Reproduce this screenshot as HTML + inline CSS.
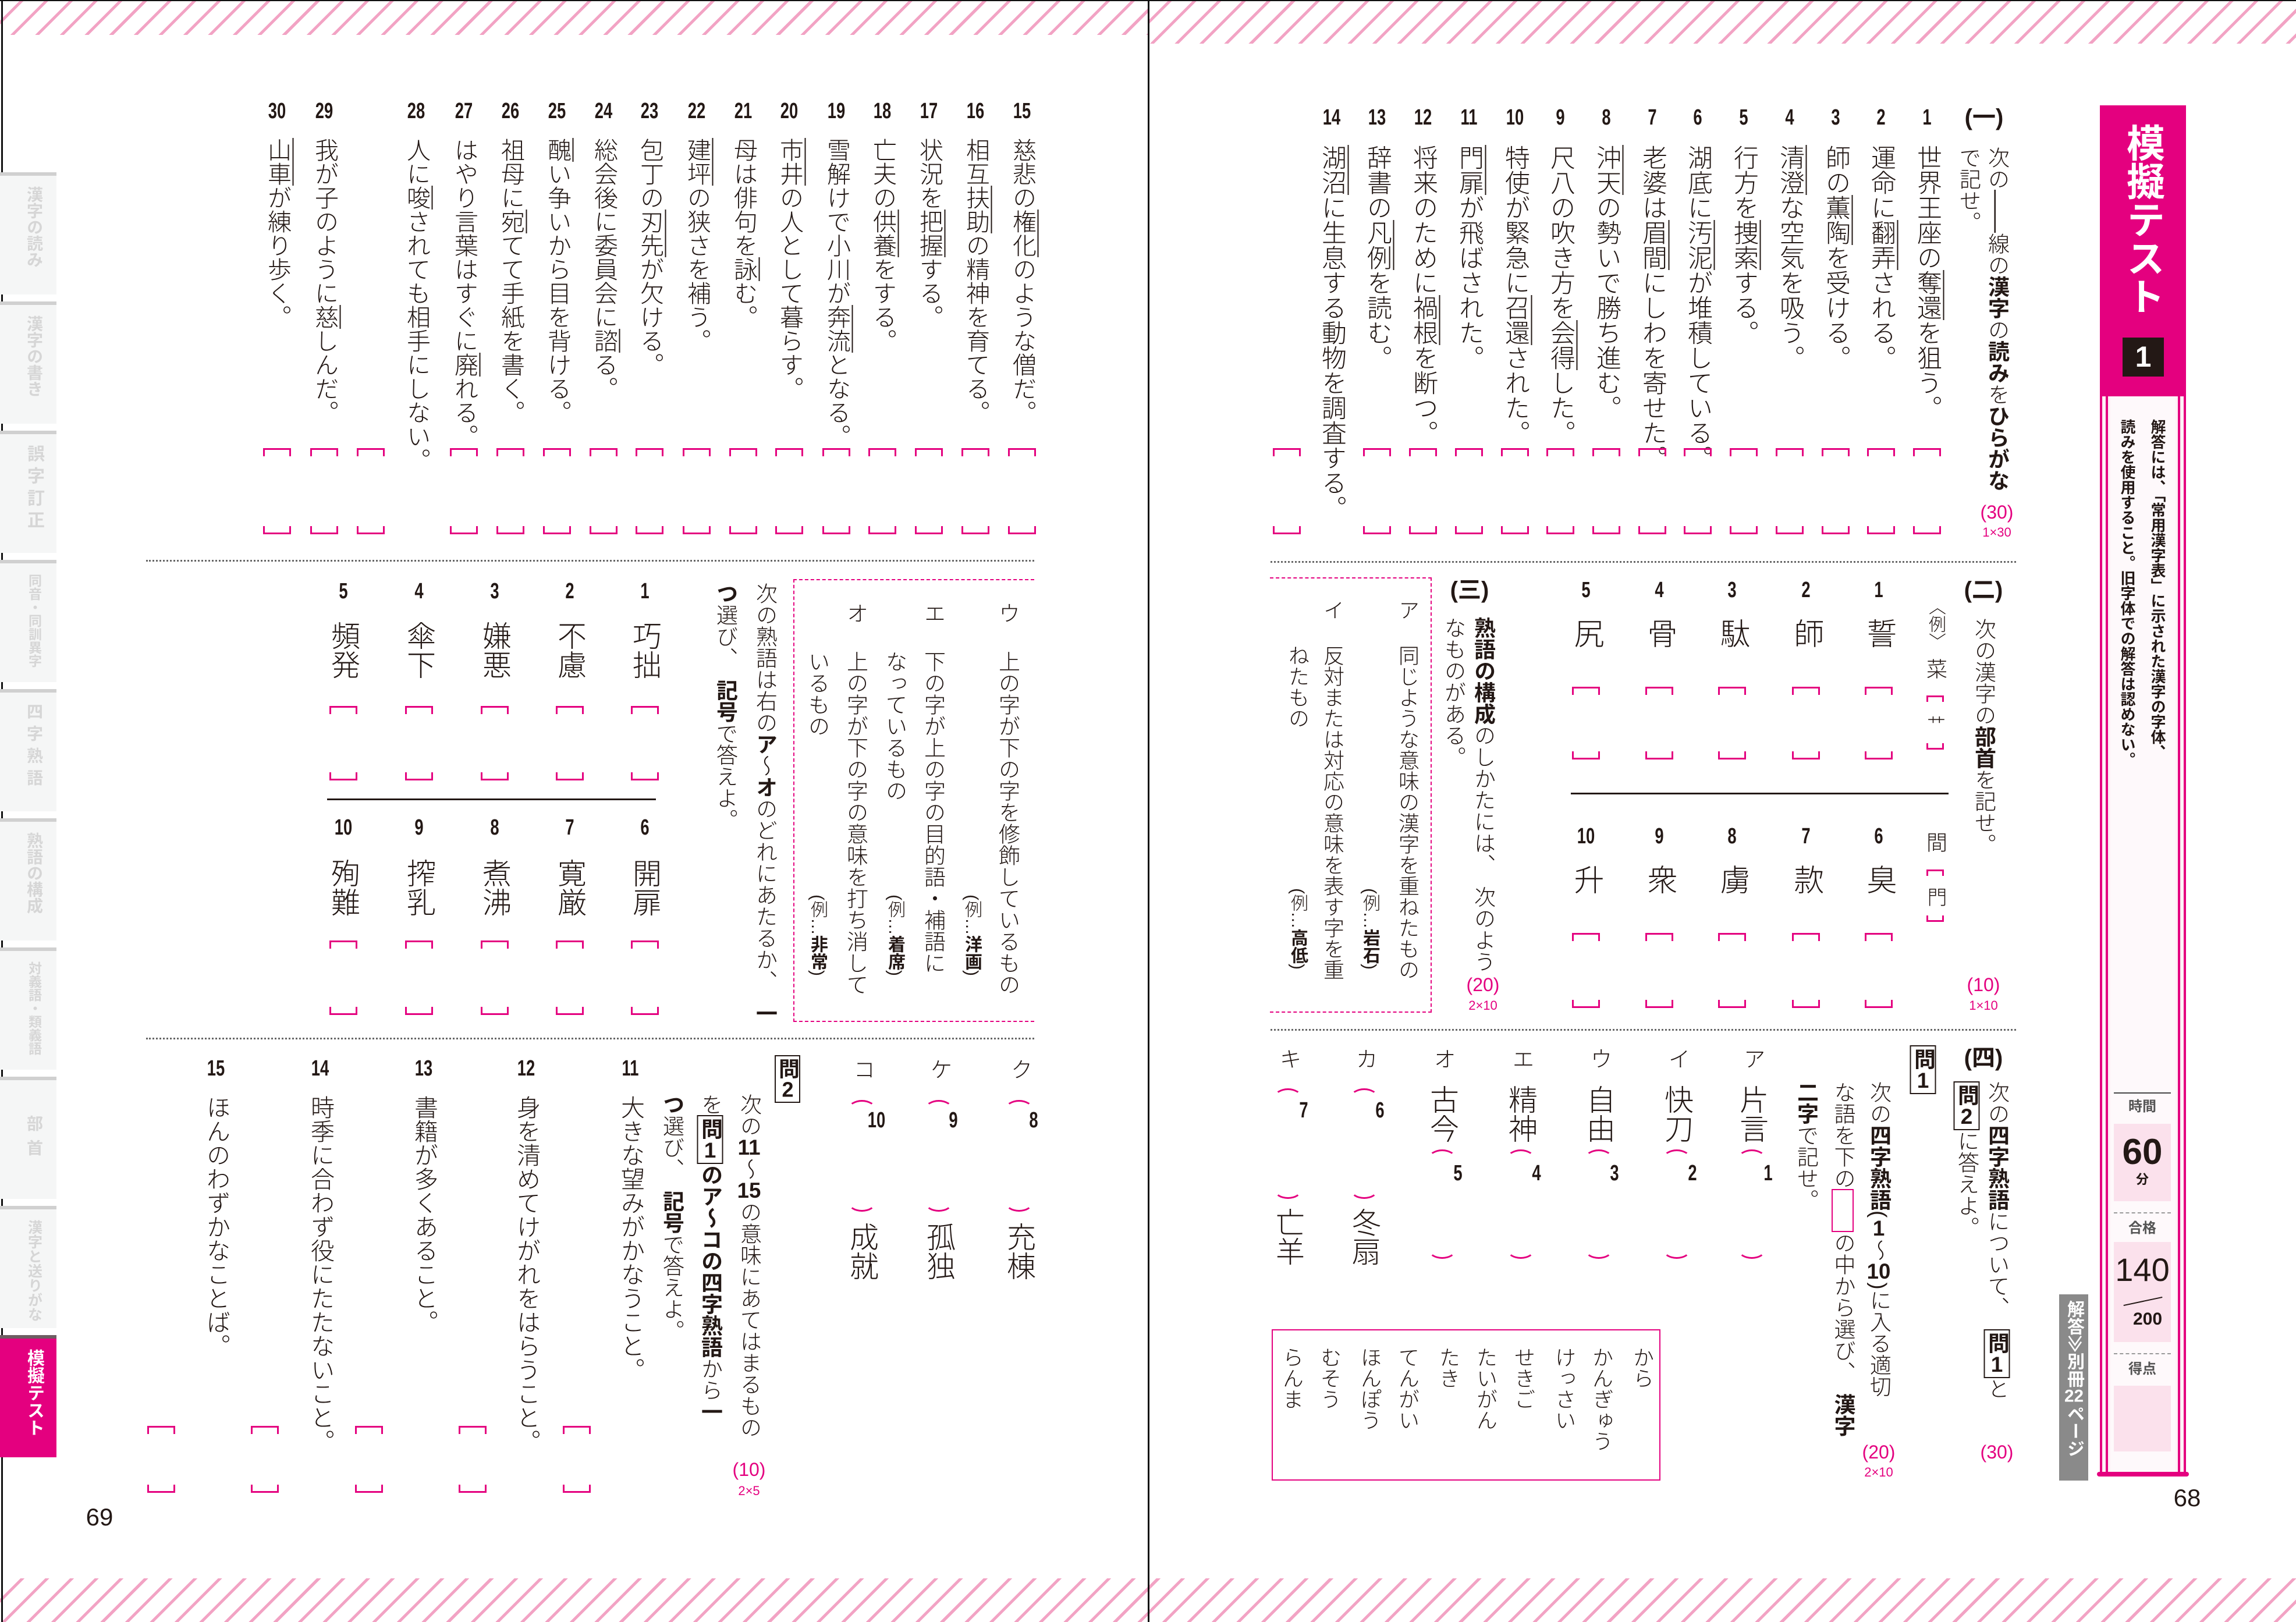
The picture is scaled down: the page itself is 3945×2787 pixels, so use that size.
<!DOCTYPE html>
<html><head><meta charset="utf-8">
<style>
body{margin:0;padding:0}
#p{position:relative;width:3945px;height:2787px;background:#fff;overflow:hidden;font-family:"Liberation Sans","Noto Sans CJK JP",sans-serif;color:#231815}
.v{position:absolute;writing-mode:vertical-rl;transform:translateX(-50%);line-height:1;white-space:nowrap;font-family:"Liberation Sans","Noto Sans CJK JP",sans-serif;font-weight:300}
.v b{font-weight:700}
.n{position:absolute;transform:translate(-50%,-50%) scaleX(0.72);font-family:"Liberation Sans",sans-serif;font-weight:700;font-size:38px;line-height:1;white-space:nowrap}
.h{position:absolute;transform:translate(-50%,-50%);font-weight:700;font-size:40px;line-height:1;white-space:nowrap}
.pk{position:absolute;transform:translate(-50%,-50%);color:#e4007f;line-height:1;white-space:nowrap;font-family:"Liberation Sans",sans-serif}
.u{border-right:2.5px solid #231815;padding-right:3px}
.tcu{text-combine-upright:all;font-family:"Liberation Sans",sans-serif;font-weight:700}
.bt,.bb{position:absolute;width:48px;height:14px;border:3.5px solid #e4007f;transform:translateX(-50%);box-sizing:border-box}
.bt{border-bottom:none}.bb{border-top:none}
.at,.ab{position:absolute;width:48px;height:16px;border:3px solid #e4007f;transform:translateX(-50%);box-sizing:border-box}
.at{border-bottom:none;border-left-color:transparent;border-right-color:transparent;border-radius:50% 50% 0 0/100% 100% 0 0}
.ab{border-top:none;border-left-color:transparent;border-right-color:transparent;border-radius:0 0 50% 50%/0 0 100% 100%}
.bx{display:inline-block;border:2.5px solid #231815;padding:3px 2px;font-weight:700}
.dl{position:absolute;border-top:3px dotted #666;height:0}
.hatch{position:absolute;background:repeating-linear-gradient(135deg,transparent 0 25px,#f2a3c4 25px 30px)}
.tab{position:absolute;left:0;width:97px;height:210px;background:#f5f6f6;border-top:6px solid #d0d0d0;box-sizing:border-box}
.tab div{position:absolute;left:58px;top:18px;writing-mode:vertical-rl;transform:translateX(-50%);color:#d6d6d6;font-size:28px;line-height:1;white-space:nowrap;font-weight:700}
</style></head><body><div id="p">

<!-- bands -->
<div class="hatch" style="left:0;top:0;width:1973px;height:60px"></div>
<div class="hatch" style="left:1973px;top:0;width:1972px;height:75px"></div>
<div class="hatch" style="left:0;top:2712px;width:3945px;height:75px"></div>
<div style="position:absolute;left:0;top:0;width:3945px;height:2px;background:#111"></div>
<div style="position:absolute;left:1972px;top:0;width:3px;height:2787px;background:#111"></div>
<div style="position:absolute;left:2px;top:0;width:3px;height:2787px;background:#111"></div>

<!-- left tabs -->
<div class="tab" style="top:296px"><div>漢字の読み</div></div>
<div class="tab" style="top:518px"><div>漢字の書き</div></div>
<div class="tab" style="top:740px"><div style="font-size:30px;letter-spacing:8px">誤字訂正</div></div>
<div class="tab" style="top:962px"><div style="font-size:23px">同音・同訓異字</div></div>
<div class="tab" style="top:1184px"><div style="letter-spacing:10px">四字熟語</div></div>
<div class="tab" style="top:1406px"><div>熟語の構成</div></div>
<div class="tab" style="top:1628px"><div style="font-size:23px">対義語・類義語</div></div>
<div class="tab" style="top:1850px"><div style="top:60px;letter-spacing:14px">部首</div></div>
<div class="tab" style="top:2072px"><div style="font-size:25px">漢字と送りがな</div></div>
<div class="tab" style="top:2294px;background:#e4007f;border-top-color:#6d5d62"><div style="color:#fff;font-size:30px">模擬テスト</div></div>

<div style="position:absolute;left:171px;top:2607px;transform:translate(-50%,-50%);font-size:42px">69</div>
<div style="position:absolute;left:3758px;top:2574px;transform:translate(-50%,-50%);font-size:42px">68</div>

<!-- ===== RIGHT PAGE (一) ===== -->
<div class="h" style="left:3409px;top:202px">(一)</div>
<div class="v" style="left:3431px;top:252px;font-size:37px">次の――線の<b>漢字</b>の<b>読み</b>を<b>ひらがな</b></div>
<div class="v" style="left:3382px;top:252px;font-size:37px">で記せ。</div>
<div class="pk" style="left:3431px;top:880px;font-size:32px">(30)</div>
<div class="pk" style="left:3431px;top:915px;font-size:22px">1×30</div>

<div class="n" style="left:3311px;top:202px">1</div><div class="v" style="left:3311px;top:249px;font-size:43px">世界王座の<span class="u">奪還</span>を狙う。</div>
<div class="n" style="left:3232px;top:202px">2</div><div class="v" style="left:3232px;top:249px;font-size:43px">運命に<span class="u">翻弄</span>される。</div>
<div class="n" style="left:3154px;top:202px">3</div><div class="v" style="left:3154px;top:249px;font-size:43px">師の<span class="u">薫陶</span>を受ける。</div>
<div class="n" style="left:3075px;top:202px">4</div><div class="v" style="left:3075px;top:249px;font-size:43px"><span class="u">清澄</span>な空気を吸う。</div>
<div class="n" style="left:2996px;top:202px">5</div><div class="v" style="left:2996px;top:249px;font-size:43px">行方を<span class="u">捜索</span>する。</div>
<div class="n" style="left:2917px;top:202px">6</div><div class="v" style="left:2917px;top:249px;font-size:43px">湖底に<span class="u">汚泥</span>が堆積している。</div>
<div class="n" style="left:2839px;top:202px">7</div><div class="v" style="left:2839px;top:249px;font-size:43px">老婆は<span class="u">眉間</span>にしわを寄せた。</div>
<div class="n" style="left:2760px;top:202px">8</div><div class="v" style="left:2760px;top:249px;font-size:43px"><span class="u">沖天</span>の勢いで勝ち進む。</div>
<div class="n" style="left:2681px;top:202px">9</div><div class="v" style="left:2681px;top:249px;font-size:43px">尺八の吹き方を<span class="u">会得</span>した。</div>
<div class="n" style="left:2603px;top:202px">10</div><div class="v" style="left:2603px;top:249px;font-size:43px">特使が緊急に<span class="u">召還</span>された。</div>
<div class="n" style="left:2524px;top:202px">11</div><div class="v" style="left:2524px;top:249px;font-size:43px"><span class="u">門扉</span>が飛ばされた。</div>
<div class="n" style="left:2445px;top:202px">12</div><div class="v" style="left:2445px;top:249px;font-size:43px">将来のために<span class="u">禍根</span>を断つ。</div>
<div class="n" style="left:2366px;top:202px">13</div><div class="v" style="left:2366px;top:249px;font-size:43px">辞書の<span class="u">凡例</span>を読む。</div>
<div class="n" style="left:2288px;top:202px">14</div><div class="v" style="left:2288px;top:249px;font-size:43px"><span class="u">湖沼</span>に生息する動物を調査する。</div>

<div class="bt" style="left:3311px;top:770px"></div><div class="bb" style="left:3311px;top:904px"></div>
<div class="bt" style="left:3232px;top:770px"></div><div class="bb" style="left:3232px;top:904px"></div>
<div class="bt" style="left:3154px;top:770px"></div><div class="bb" style="left:3154px;top:904px"></div>
<div class="bt" style="left:3075px;top:770px"></div><div class="bb" style="left:3075px;top:904px"></div>
<div class="bt" style="left:2996px;top:770px"></div><div class="bb" style="left:2996px;top:904px"></div>
<div class="bt" style="left:2917px;top:770px"></div><div class="bb" style="left:2917px;top:904px"></div>
<div class="bt" style="left:2839px;top:770px"></div><div class="bb" style="left:2839px;top:904px"></div>
<div class="bt" style="left:2760px;top:770px"></div><div class="bb" style="left:2760px;top:904px"></div>
<div class="bt" style="left:2681px;top:770px"></div><div class="bb" style="left:2681px;top:904px"></div>
<div class="bt" style="left:2603px;top:770px"></div><div class="bb" style="left:2603px;top:904px"></div>
<div class="bt" style="left:2524px;top:770px"></div><div class="bb" style="left:2524px;top:904px"></div>
<div class="bt" style="left:2445px;top:770px"></div><div class="bb" style="left:2445px;top:904px"></div>
<div class="bt" style="left:2366px;top:770px"></div><div class="bb" style="left:2366px;top:904px"></div>
<div class="bt" style="left:2211px;top:770px"></div><div class="bb" style="left:2211px;top:904px"></div>

<div class="dl" style="left:2183px;top:964px;width:1281px"></div>

<!-- (二) -->
<div class="h" style="left:3408px;top:1014px">(二)</div>
<div class="v" style="left:3408px;top:1062px;font-size:37px">次の漢字の<b>部首</b>を記せ。</div>
<div class="v" style="left:3325px;top:1027px;font-size:30px">〈例〉</div>
<div class="v" style="left:3325px;top:1131px;font-size:36px">菜</div>
<div class="bt" style="left:3325px;top:1195px;width:30px;height:11px;border-width:3px"></div>
<div class="v" style="left:3325px;top:1228px;font-size:32px">艹</div>
<div class="bb" style="left:3325px;top:1277px;width:30px;height:11px;border-width:3px"></div>
<div class="v" style="left:3325px;top:1429px;font-size:36px">間</div>
<div class="bt" style="left:3325px;top:1494px;width:30px;height:11px;border-width:3px"></div>
<div class="v" style="left:3325px;top:1524px;font-size:34px">門</div>
<div class="bb" style="left:3325px;top:1573px;width:30px;height:11px;border-width:3px"></div>
<div class="pk" style="left:3408px;top:1692px;font-size:32px">(10)</div>
<div class="pk" style="left:3408px;top:1728px;font-size:22px">1×10</div>

<div class="n" style="left:3228px;top:1014px">1</div><div class="v" style="left:3228px;top:1062px;font-size:52px">誓</div>
<div class="n" style="left:3103px;top:1014px">2</div><div class="v" style="left:3103px;top:1062px;font-size:52px">師</div>
<div class="n" style="left:2976px;top:1014px">3</div><div class="v" style="left:2976px;top:1062px;font-size:52px">駄</div>
<div class="n" style="left:2851px;top:1014px">4</div><div class="v" style="left:2851px;top:1062px;font-size:52px">骨</div>
<div class="n" style="left:2725px;top:1014px">5</div><div class="v" style="left:2725px;top:1062px;font-size:52px">尻</div>
<div class="bt" style="left:3228px;top:1180px"></div><div class="bb" style="left:3228px;top:1291px"></div>
<div class="bt" style="left:3103px;top:1180px"></div><div class="bb" style="left:3103px;top:1291px"></div>
<div class="bt" style="left:2976px;top:1180px"></div><div class="bb" style="left:2976px;top:1291px"></div>
<div class="bt" style="left:2851px;top:1180px"></div><div class="bb" style="left:2851px;top:1291px"></div>
<div class="bt" style="left:2725px;top:1180px"></div><div class="bb" style="left:2725px;top:1291px"></div>
<div style="position:absolute;left:2699px;top:1362px;width:649px;height:3px;background:#231815"></div>
<div class="n" style="left:3228px;top:1437px">6</div><div class="v" style="left:3228px;top:1485px;font-size:52px">臭</div>
<div class="n" style="left:3103px;top:1437px">7</div><div class="v" style="left:3103px;top:1485px;font-size:52px">款</div>
<div class="n" style="left:2976px;top:1437px">8</div><div class="v" style="left:2976px;top:1485px;font-size:52px">虜</div>
<div class="n" style="left:2851px;top:1437px">9</div><div class="v" style="left:2851px;top:1485px;font-size:52px">衆</div>
<div class="n" style="left:2725px;top:1437px">10</div><div class="v" style="left:2725px;top:1485px;font-size:52px">升</div>
<div class="bt" style="left:3228px;top:1603px"></div><div class="bb" style="left:3228px;top:1718px"></div>
<div class="bt" style="left:3103px;top:1603px"></div><div class="bb" style="left:3103px;top:1718px"></div>
<div class="bt" style="left:2976px;top:1603px"></div><div class="bb" style="left:2976px;top:1718px"></div>
<div class="bt" style="left:2851px;top:1603px"></div><div class="bb" style="left:2851px;top:1718px"></div>
<div class="bt" style="left:2725px;top:1603px"></div><div class="bb" style="left:2725px;top:1718px"></div>

<!-- (三) -->
<div class="h" style="left:2525px;top:1014px">(三)</div>
<div class="v" style="left:2548px;top:1060px;font-size:37px"><b>熟語の構成</b>のしかたには、　次のよう</div>
<div class="v" style="left:2497px;top:1060px;font-size:37px">なものがある。</div>
<div class="pk" style="left:2548px;top:1692px;font-size:32px">(20)</div>
<div class="pk" style="left:2548px;top:1728px;font-size:22px">2×10</div>
<div style="position:absolute;left:2182px;top:992px;width:278px;height:748px;border:2px dashed #e4007f;border-left:none;box-sizing:border-box"></div>
<div class="v" style="left:2418px;top:1030px;font-size:36px">ア</div>
<div class="v" style="left:2418px;top:1108px;font-size:36px">同じような意味の漢字を重ねたもの</div>
<div class="v" style="left:2353px;top:1526px;font-size:30px">(例…<b>岩石</b>)</div>
<div class="v" style="left:2289px;top:1030px;font-size:36px">イ</div>
<div class="v" style="left:2289px;top:1108px;font-size:36px">反対または対応の意味を表す字を重</div>
<div class="v" style="left:2229px;top:1108px;font-size:36px">ねたもの</div>
<div class="v" style="left:2229px;top:1526px;font-size:30px">(例…<b>高低</b>)</div>

<div class="dl" style="left:2183px;top:1768px;width:1281px"></div>

<!-- (四) -->
<div class="h" style="left:3408px;top:1818px">(四)</div>
<div class="v" style="left:3431px;top:1858px;font-size:37px">次の<b>四字熟語</b>について、　<span class="bx">問<span class="tcu">1</span></span>と</div>
<div class="v" style="left:3379px;top:1858px;font-size:37px"><span class="bx">問<span class="tcu">2</span></span>に答えよ。</div>
<div class="v" style="left:3304px;top:1796px;font-size:37px"><span class="bx">問<span class="tcu">1</span></span></div>
<div class="v" style="left:3228px;top:1858px;font-size:37px">次の<b>四字熟語</b>(<span class="tcu">1</span>〜<span class="tcu">10</span>)に入る適切</div>
<div class="v" style="left:3166px;top:1858px;font-size:37px">な語を下の<span style="display:inline-block;width:34px;height:70px;border:2px solid #e4007f"></span>の中から選び、　<b>漢字</b></div>
<div class="v" style="left:3103px;top:1858px;font-size:37px"><b>二字</b>で記せ。</div>
<div class="pk" style="left:3228px;top:2495px;font-size:32px">(20)</div>
<div class="pk" style="left:3228px;top:2530px;font-size:22px">2×10</div>
<div class="pk" style="left:3431px;top:2495px;font-size:32px">(30)</div>

<div style="position:absolute;left:3538px;top:2224px;width:50px;height:320px;background:#8a8a8a"></div>
<div class="v" style="left:3563px;top:2234px;font-size:30px;color:#fff;font-weight:700">解答≫別冊<span class="tcu">22</span>ページ</div>

<div class="v" style="left:3010px;top:1800px;font-size:38px">ア</div><div class="v" style="left:3010px;top:1864px;font-size:50px">片言</div>
<div class="v" style="left:2881px;top:1800px;font-size:38px">イ</div><div class="v" style="left:2881px;top:1864px;font-size:50px">快刀</div>
<div class="v" style="left:2747px;top:1800px;font-size:38px">ウ</div><div class="v" style="left:2747px;top:1864px;font-size:50px">自由</div>
<div class="v" style="left:2613px;top:1800px;font-size:38px">エ</div><div class="v" style="left:2613px;top:1864px;font-size:50px">精神</div>
<div class="v" style="left:2478px;top:1800px;font-size:38px">オ</div><div class="v" style="left:2478px;top:1864px;font-size:50px">古今</div>
<div class="at" style="left:3010px;top:1975px"></div><div class="n" style="left:3038px;top:2016px">1</div><div class="ab" style="left:3010px;top:2147px"></div>
<div class="at" style="left:2881px;top:1975px"></div><div class="n" style="left:2908px;top:2016px">2</div><div class="ab" style="left:2881px;top:2147px"></div>
<div class="at" style="left:2747px;top:1975px"></div><div class="n" style="left:2774px;top:2016px">3</div><div class="ab" style="left:2747px;top:2147px"></div>
<div class="at" style="left:2613px;top:1975px"></div><div class="n" style="left:2640px;top:2016px">4</div><div class="ab" style="left:2613px;top:2147px"></div>
<div class="at" style="left:2478px;top:1975px"></div><div class="n" style="left:2505px;top:2016px">5</div><div class="ab" style="left:2478px;top:2147px"></div>
<div class="v" style="left:2344px;top:1800px;font-size:38px">カ</div>
<div class="at" style="left:2344px;top:1870px"></div><div class="n" style="left:2371px;top:1908px">6</div><div class="ab" style="left:2344px;top:2044px"></div>
<div class="v" style="left:2344px;top:2075px;font-size:50px">冬扇</div>
<div class="v" style="left:2213px;top:1800px;font-size:38px">キ</div>
<div class="at" style="left:2213px;top:1870px"></div><div class="n" style="left:2240px;top:1908px">7</div><div class="ab" style="left:2213px;top:2044px"></div>
<div class="v" style="left:2213px;top:2075px;font-size:50px">亡羊</div>

<div style="position:absolute;left:2185px;top:2284px;width:668px;height:260px;border:2.5px solid #e4007f;box-sizing:border-box"></div>
<div class="v" style="left:2821px;top:2314px;font-size:36px">から</div>
<div class="v" style="left:2751px;top:2314px;font-size:36px">かんぎゅう</div>
<div class="v" style="left:2687px;top:2314px;font-size:36px">けっさい</div>
<div class="v" style="left:2617px;top:2314px;font-size:36px">せきご</div>
<div class="v" style="left:2552px;top:2314px;font-size:36px">たいがん</div>
<div class="v" style="left:2488px;top:2314px;font-size:36px">たき</div>
<div class="v" style="left:2418px;top:2314px;font-size:36px">てんがい</div>
<div class="v" style="left:2353px;top:2314px;font-size:36px">ほんぽう</div>
<div class="v" style="left:2284px;top:2314px;font-size:36px">むそう</div>
<div class="v" style="left:2219px;top:2314px;font-size:36px">らんま</div>

<!-- title box -->
<div style="position:absolute;left:3608px;top:181px;width:148px;height:500px;background:#e4007f"></div>
<div class="v" style="left:3682px;top:212px;font-size:66px;color:#fff;font-weight:700">模擬テスト</div>
<div style="position:absolute;left:3647px;top:580px;width:71px;height:67px;background:#231815;color:#fff;font-weight:700;font-size:50px;line-height:67px;text-align:center;font-family:'Liberation Sans',sans-serif">1</div>
<div style="position:absolute;left:3608px;top:681px;width:148px;height:1852px;background:#fdf1f6;border-left:4px solid #e4007f;border-right:4px solid #e4007f;box-sizing:border-box"></div>
<div style="position:absolute;left:3618px;top:681px;width:4px;height:1852px;background:#e4007f"></div>
<div style="position:absolute;left:3742px;top:681px;width:4px;height:1852px;background:#e4007f"></div>
<div style="position:absolute;left:3626px;top:681px;width:112px;height:1852px;background:#fff;opacity:.55"></div>
<div style="position:absolute;left:3603px;top:2529px;width:158px;height:8px;background:#e4007f;border-radius:4px"></div>
<div class="v" style="left:3707px;top:720px;font-size:26px;font-weight:700">解答には、「常用漢字表」に示された漢字の字体、</div>
<div class="v" style="left:3655px;top:720px;font-size:26px;font-weight:700">読みを使用すること。旧字体での解答は認めない。</div>
<div style="position:absolute;left:3632px;top:1877px;width:98px;height:2px;background:#444"></div>
<div class="h" style="left:3681px;top:1902px;font-size:24px;color:#555">時間</div>
<div style="position:absolute;left:3632px;top:1931px;width:98px;height:133px;background:#fbe1ec"></div>
<div class="h" style="left:3681px;top:1980px;font-size:62px;font-family:'Liberation Sans',sans-serif">60</div>
<div class="h" style="left:3681px;top:2027px;font-size:22px">分</div>
<div style="position:absolute;left:3632px;top:2083px;width:98px;border-top:2px dashed #999"></div>
<div class="h" style="left:3681px;top:2111px;font-size:24px;color:#555">合格</div>
<div style="position:absolute;left:3632px;top:2134px;width:98px;height:172px;background:#fbe1ec"></div>
<div class="h" style="left:3681px;top:2182px;font-size:56px;font-weight:400;font-family:'Liberation Sans',sans-serif">140</div>
<div style="position:absolute;left:3648px;top:2235px;width:68px;height:2px;background:#231815;transform:rotate(-12deg)"></div>
<div class="h" style="left:3690px;top:2267px;font-size:30px;font-family:'Liberation Sans',sans-serif">200</div>
<div style="position:absolute;left:3632px;top:2325px;width:98px;border-top:2px dashed #999"></div>
<div class="h" style="left:3681px;top:2353px;font-size:24px;color:#555">得点</div>
<div style="position:absolute;left:3632px;top:2381px;width:98px;height:113px;background:#fbe1ec"></div>

<!-- ===== LEFT PAGE ===== -->
<div class="n" style="left:1756px;top:191px">15</div><div class="v" style="left:1756px;top:237px;font-size:41px">慈悲の<span class="u">権化</span>のような僧だ。</div>
<div class="n" style="left:1676px;top:191px">16</div><div class="v" style="left:1676px;top:237px;font-size:41px">相互<span class="u">扶助</span>の精神を育てる。</div>
<div class="n" style="left:1596px;top:191px">17</div><div class="v" style="left:1596px;top:237px;font-size:41px">状況を<span class="u">把握</span>する。</div>
<div class="n" style="left:1516px;top:191px">18</div><div class="v" style="left:1516px;top:237px;font-size:41px">亡夫の<span class="u">供養</span>をする。</div>
<div class="n" style="left:1437px;top:191px">19</div><div class="v" style="left:1437px;top:237px;font-size:41px">雪解けで小川が<span class="u">奔流</span>となる。</div>
<div class="n" style="left:1356px;top:191px">20</div><div class="v" style="left:1356px;top:237px;font-size:41px"><span class="u">市井</span>の人として暮らす。</div>
<div class="n" style="left:1277px;top:191px">21</div><div class="v" style="left:1277px;top:237px;font-size:41px">母は俳句を<span class="u">詠</span>む。</div>
<div class="n" style="left:1197px;top:191px">22</div><div class="v" style="left:1197px;top:237px;font-size:41px"><span class="u">建坪</span>の狭さを補う。</div>
<div class="n" style="left:1116px;top:191px">23</div><div class="v" style="left:1116px;top:237px;font-size:41px">包丁の<span class="u">刃先</span>が欠ける。</div>
<div class="n" style="left:1037px;top:191px">24</div><div class="v" style="left:1037px;top:237px;font-size:41px">総会後に委員会に<span class="u">諮</span>る。</div>
<div class="n" style="left:957px;top:191px">25</div><div class="v" style="left:957px;top:237px;font-size:41px"><span class="u">醜</span>い争いから目を背ける。</div>
<div class="n" style="left:877px;top:191px">26</div><div class="v" style="left:877px;top:237px;font-size:41px">祖母に<span class="u">宛</span>てて手紙を書く。</div>
<div class="n" style="left:797px;top:191px">27</div><div class="v" style="left:797px;top:237px;font-size:41px">はやり言葉はすぐに<span class="u">廃</span>れる。</div>
<div class="n" style="left:715px;top:191px">28</div><div class="v" style="left:715px;top:237px;font-size:41px">人に<span class="u">唆</span>されても相手にしない。</div>
<div class="n" style="left:557px;top:191px">29</div><div class="v" style="left:557px;top:237px;font-size:41px">我が子のように<span class="u">慈</span>しんだ。</div>
<div class="n" style="left:476px;top:191px">30</div><div class="v" style="left:476px;top:237px;font-size:41px"><span class="u">山車</span>が練り歩く。</div>

<div class="bt" style="left:1756px;top:770px"></div><div class="bb" style="left:1756px;top:904px"></div>
<div class="bt" style="left:1676px;top:770px"></div><div class="bb" style="left:1676px;top:904px"></div>
<div class="bt" style="left:1596px;top:770px"></div><div class="bb" style="left:1596px;top:904px"></div>
<div class="bt" style="left:1516px;top:770px"></div><div class="bb" style="left:1516px;top:904px"></div>
<div class="bt" style="left:1437px;top:770px"></div><div class="bb" style="left:1437px;top:904px"></div>
<div class="bt" style="left:1356px;top:770px"></div><div class="bb" style="left:1356px;top:904px"></div>
<div class="bt" style="left:1277px;top:770px"></div><div class="bb" style="left:1277px;top:904px"></div>
<div class="bt" style="left:1197px;top:770px"></div><div class="bb" style="left:1197px;top:904px"></div>
<div class="bt" style="left:1116px;top:770px"></div><div class="bb" style="left:1116px;top:904px"></div>
<div class="bt" style="left:1037px;top:770px"></div><div class="bb" style="left:1037px;top:904px"></div>
<div class="bt" style="left:957px;top:770px"></div><div class="bb" style="left:957px;top:904px"></div>
<div class="bt" style="left:877px;top:770px"></div><div class="bb" style="left:877px;top:904px"></div>
<div class="bt" style="left:797px;top:770px"></div><div class="bb" style="left:797px;top:904px"></div>
<div class="bt" style="left:637px;top:770px"></div><div class="bb" style="left:637px;top:904px"></div>
<div class="bt" style="left:557px;top:770px"></div><div class="bb" style="left:557px;top:904px"></div>
<div class="bt" style="left:476px;top:770px"></div><div class="bb" style="left:476px;top:904px"></div>

<div class="dl" style="left:251px;top:962px;width:1526px"></div>

<!-- left middle -->
<div style="position:absolute;left:1363px;top:995px;width:414px;height:761px;border:2px dashed #e4007f;border-right:none;box-sizing:border-box"></div>
<div class="v" style="left:1731px;top:1035px;font-size:37px">ウ</div>
<div class="v" style="left:1731px;top:1118px;font-size:37px">上の字が下の字を修飾しているもの</div>
<div class="v" style="left:1669px;top:1537px;font-size:30px">(例…<b>洋画</b>)</div>
<div class="v" style="left:1603px;top:1035px;font-size:37px">エ</div>
<div class="v" style="left:1603px;top:1118px;font-size:37px">下の字が上の字の目的語・補語に</div>
<div class="v" style="left:1537px;top:1118px;font-size:37px">なっているもの</div>
<div class="v" style="left:1537px;top:1537px;font-size:30px">(例…<b>着席</b>)</div>
<div class="v" style="left:1470px;top:1035px;font-size:37px">オ</div>
<div class="v" style="left:1470px;top:1118px;font-size:37px">上の字が下の字の意味を打ち消して</div>
<div class="v" style="left:1404px;top:1118px;font-size:37px">いるもの</div>
<div class="v" style="left:1404px;top:1537px;font-size:30px">(例…<b>非常</b>)</div>
<div class="v" style="left:1314px;top:1001px;font-size:37px">次の熟語は右の<b>ア</b>〜<b>オ</b>のどれにあたるか、　<b>一</b></div>
<div class="v" style="left:1246px;top:1001px;font-size:37px"><b>つ</b>選び、　<b>記号</b>で答えよ。</div>

<div class="n" style="left:1108px;top:1016px">1</div><div class="v" style="left:1108px;top:1067px;font-size:50px">巧拙</div>
<div class="n" style="left:979px;top:1016px">2</div><div class="v" style="left:979px;top:1067px;font-size:50px">不慮</div>
<div class="n" style="left:850px;top:1016px">3</div><div class="v" style="left:850px;top:1067px;font-size:50px">嫌悪</div>
<div class="n" style="left:720px;top:1016px">4</div><div class="v" style="left:720px;top:1067px;font-size:50px">傘下</div>
<div class="n" style="left:590px;top:1016px">5</div><div class="v" style="left:590px;top:1067px;font-size:50px">頻発</div>
<div class="bt" style="left:1108px;top:1213px"></div><div class="bb" style="left:1108px;top:1327px"></div>
<div class="bt" style="left:979px;top:1213px"></div><div class="bb" style="left:979px;top:1327px"></div>
<div class="bt" style="left:850px;top:1213px"></div><div class="bb" style="left:850px;top:1327px"></div>
<div class="bt" style="left:720px;top:1213px"></div><div class="bb" style="left:720px;top:1327px"></div>
<div class="bt" style="left:590px;top:1213px"></div><div class="bb" style="left:590px;top:1327px"></div>
<div style="position:absolute;left:562px;top:1372px;width:565px;height:3px;background:#231815"></div>
<div class="n" style="left:1108px;top:1422px">6</div><div class="v" style="left:1108px;top:1475px;font-size:50px">開扉</div>
<div class="n" style="left:979px;top:1422px">7</div><div class="v" style="left:979px;top:1475px;font-size:50px">寛厳</div>
<div class="n" style="left:850px;top:1422px">8</div><div class="v" style="left:850px;top:1475px;font-size:50px">煮沸</div>
<div class="n" style="left:720px;top:1422px">9</div><div class="v" style="left:720px;top:1475px;font-size:50px">搾乳</div>
<div class="n" style="left:590px;top:1422px">10</div><div class="v" style="left:590px;top:1475px;font-size:50px">殉難</div>
<div class="bt" style="left:1108px;top:1616px"></div><div class="bb" style="left:1108px;top:1730px"></div>
<div class="bt" style="left:979px;top:1616px"></div><div class="bb" style="left:979px;top:1730px"></div>
<div class="bt" style="left:850px;top:1616px"></div><div class="bb" style="left:850px;top:1730px"></div>
<div class="bt" style="left:720px;top:1616px"></div><div class="bb" style="left:720px;top:1730px"></div>
<div class="bt" style="left:590px;top:1616px"></div><div class="bb" style="left:590px;top:1730px"></div>

<div class="dl" style="left:251px;top:1783px;width:1526px"></div>

<!-- left bottom -->
<div class="v" style="left:1751px;top:1818px;font-size:38px">ク</div>
<div class="at" style="left:1751px;top:1890px"></div><div class="n" style="left:1776px;top:1925px">8</div><div class="ab" style="left:1751px;top:2066px"></div>
<div class="v" style="left:1751px;top:2100px;font-size:50px">充棟</div>
<div class="v" style="left:1613px;top:1818px;font-size:38px">ケ</div>
<div class="at" style="left:1613px;top:1890px"></div><div class="n" style="left:1638px;top:1925px">9</div><div class="ab" style="left:1613px;top:2066px"></div>
<div class="v" style="left:1613px;top:2100px;font-size:50px">孤独</div>
<div class="v" style="left:1481px;top:1818px;font-size:38px">コ</div>
<div class="at" style="left:1481px;top:1890px"></div><div class="n" style="left:1506px;top:1925px">10</div><div class="ab" style="left:1481px;top:2066px"></div>
<div class="v" style="left:1481px;top:2100px;font-size:50px">成就</div>

<div class="v" style="left:1353px;top:1813px;font-size:36px"><span class="bx">問<span class="tcu">2</span></span></div>
<div class="v" style="left:1287px;top:1879px;font-size:37px">次の<span class="tcu">11</span>〜<span class="tcu">15</span>の意味にあてはまるもの</div>
<div class="v" style="left:1220px;top:1879px;font-size:37px">を<span class="bx">問<span class="tcu">1</span></span><b>のア〜コの四字熟語</b>から<b>一</b></div>
<div class="v" style="left:1154px;top:1879px;font-size:37px"><b>つ</b>選び、　<b>記号</b>で答えよ。</div>
<div class="pk" style="left:1287px;top:2525px;font-size:32px">(10)</div>
<div class="pk" style="left:1287px;top:2562px;font-size:22px">2×5</div>

<div class="n" style="left:1083px;top:1836px">11</div><div class="v" style="left:1083px;top:1882px;font-size:41px">大きな望みがかなうこと。</div>
<div class="n" style="left:904px;top:1836px">12</div><div class="v" style="left:904px;top:1882px;font-size:41px">身を清めてけがれをはらうこと。</div>
<div class="n" style="left:728px;top:1836px">13</div><div class="v" style="left:728px;top:1882px;font-size:41px">書籍が多くあること。</div>
<div class="n" style="left:550px;top:1836px">14</div><div class="v" style="left:550px;top:1882px;font-size:41px">時季に合わず役にたたないこと。</div>
<div class="n" style="left:371px;top:1836px">15</div><div class="v" style="left:371px;top:1882px;font-size:41px">ほんのわずかなことば。</div>
<div class="bt" style="left:991px;top:2450px"></div><div class="bb" style="left:991px;top:2551px"></div>
<div class="bt" style="left:812px;top:2450px"></div><div class="bb" style="left:812px;top:2551px"></div>
<div class="bt" style="left:634px;top:2450px"></div><div class="bb" style="left:634px;top:2551px"></div>
<div class="bt" style="left:455px;top:2450px"></div><div class="bb" style="left:455px;top:2551px"></div>
<div class="bt" style="left:277px;top:2450px"></div><div class="bb" style="left:277px;top:2551px"></div>

</div></body></html>
